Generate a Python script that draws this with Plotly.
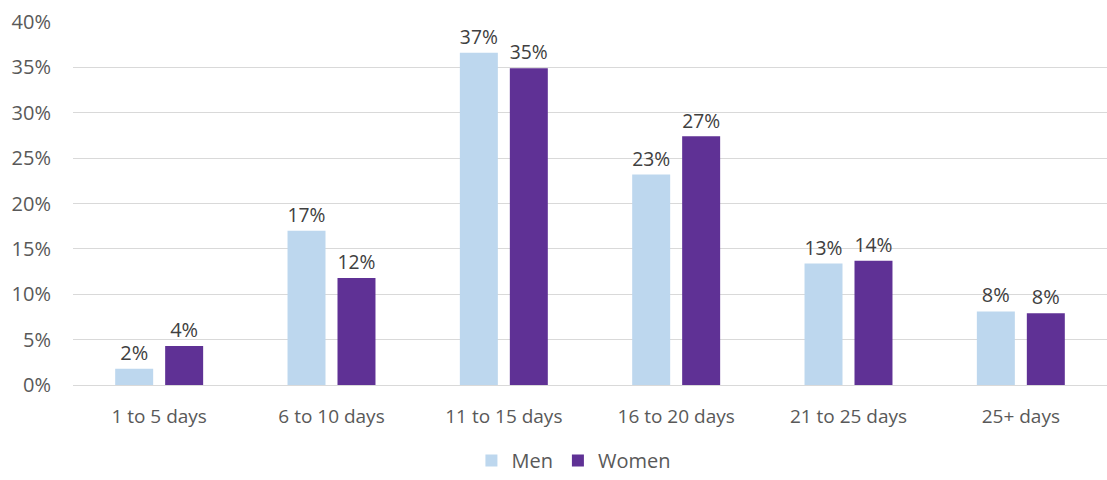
import plotly.graph_objects as go

categories = ["1 to 5 days", "6 to 10 days", "11 to 15 days", "16 to 20 days", "21 to 25 days", "25+ days"]
men = [0.018, 0.170, 0.366, 0.232, 0.134, 0.081]
women = [0.043, 0.118, 0.349, 0.274, 0.137, 0.079]
tick_vals = [0, 0.05, 0.10, 0.15, 0.20, 0.25, 0.30, 0.35, 0.40]
tick_text = ["0%", "5%", "10%", "15%", "20%", "25%", "30%", "35%", "40%"]

font_family = "Open Sans, Liberation Sans, sans-serif"

fig = go.Figure()
fig.add_trace(go.Bar(
    x=categories, y=men, name="Men", marker=dict(color="#BDD7EE", line=dict(width=0)),
    texttemplate="%{y:.0%}", textposition="outside",
    textfont=dict(size=20, color="#404040", family=font_family), cliponaxis=False,
))
fig.add_trace(go.Bar(
    x=categories, y=women, name="Women", marker=dict(color="#5F3195", line=dict(width=0)),
    texttemplate="%{y:.0%}", textposition="outside",
    textfont=dict(size=20, color="#404040", family=font_family), cliponaxis=False,
))

fig.update_layout(
    width=1107, height=480,
    margin=dict(l=73, r=0, t=22, b=95, autoexpand=False),
    paper_bgcolor="white", plot_bgcolor="white",
    barmode="group", bargap=0.42, bargroupgap=0.24,
    font=dict(family=font_family, color="#595959", size=19),
    legend=dict(orientation="h", x=0.518, xanchor="center", xref="container",
                y=0.0, yanchor="bottom", yref="container",
                font=dict(size=20, color="#595959"), itemwidth=30, traceorder="normal"),
    showlegend=True,
)
fig.update_yaxes(range=[0, 0.40], tickvals=tick_vals, ticktext=tick_text,
                 showgrid=True, gridcolor="#D9D9D9", gridwidth=1,
                 zeroline=True, zerolinecolor="#D9D9D9", zerolinewidth=1,
                 showline=False, ticks="", ticklabelstandoff=21,
                 tickfont=dict(size=20, color="#595959"))
fig.update_xaxes(showline=True, linecolor="#D9D9D9", linewidth=1, ticks="",
                 tickfont=dict(size=19, color="#595959"), ticklabelstandoff=14)

fig.write_html("out.html")
